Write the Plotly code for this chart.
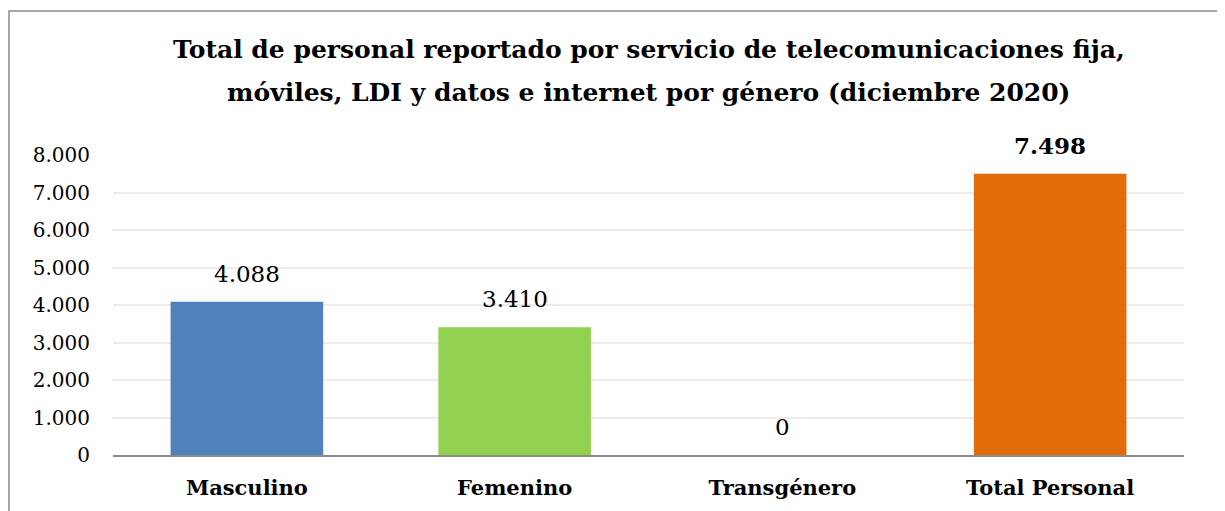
import plotly.graph_objects as go

categories = ["Masculino", "Femenino", "Transgénero", "Total Personal"]
values = [4088, 3410, 0, 7498]
colors = ["#4F81BD", "#92D050", "#A5A5A5", "#E36C0A"]
label_texts = ["4.088", "3.410", "0", "<b>7.498</b>"]
tick_vals = [0, 1000, 2000, 3000, 4000, 5000, 6000, 7000, 8000]
title_lines = ["<b>Total de personal reportado por servicio de telecomunicaciones fija,</b>",
               "<b>móviles, LDI y datos e internet por género (diciembre 2020)</b>"]

W, H = 1217, 503
L, R, T, B = 105, 41, 147, 56
pw, ph = W - L - R, H - T - B

font_fam = "DejaVu Serif"

fig = go.Figure()
fig.add_trace(go.Bar(
    x=categories, y=values,
    marker=dict(color=colors, line=dict(width=0)),
    hoverinfo="skip",
))

for cat, val, txt in zip(categories, values, label_texts):
    fig.add_annotation(x=cat, y=val, text=txt, showarrow=False,
                       xref="x", yref="y", yanchor="bottom", yshift=13,
                       font=dict(family=font_fam, size=23, color="#000000"))

for i, line in enumerate(title_lines):
    ys = [42, 84][i]
    fig.add_annotation(x=0.5, xref="paper", xanchor="center",
                       y=(H - B - ys) / ph, yref="paper", yanchor="middle",
                       text=line, showarrow=False,
                       font=dict(family=font_fam, size=25, color="#000000"))

fig.update_layout(
    width=W, height=H,
    margin=dict(l=L, r=R, t=T, b=B),
    paper_bgcolor="white", plot_bgcolor="white",
    separators=",.",
    bargap=0.43,
    showlegend=False,
    xaxis=dict(
        showgrid=False, showline=True, linecolor="#8c8c8c", linewidth=2,
        ticks="", tickfont=dict(family=font_fam, size=21, color="#000000"),
        tickprefix="<b>", ticksuffix="</b>", ticklabelstandoff=13,
    ),
    yaxis=dict(
        range=[0, 8000], tickvals=tick_vals, tickformat=",d",
        showgrid=True, gridcolor="#ececec", gridwidth=2,
        zeroline=False, showline=False, ticks="",
        tickfont=dict(family=font_fam, size=20, color="#000000"),
        ticklabelstandoff=22,
    ),
)

# outer chart border (open on the right/bottom as in the reference crop)
fig.add_shape(type="rect", xref="paper", yref="paper",
              x0=(1 - L) / pw, x1=(W + 20 - L) / pw,
              y0=(H - (H + 20) - B) / ph, y1=(H - 3 - B) / ph,
              line=dict(color="#8c8c8c", width=1.5), fillcolor="rgba(0,0,0,0)", layer="below")

fig.write_html("out.html")
